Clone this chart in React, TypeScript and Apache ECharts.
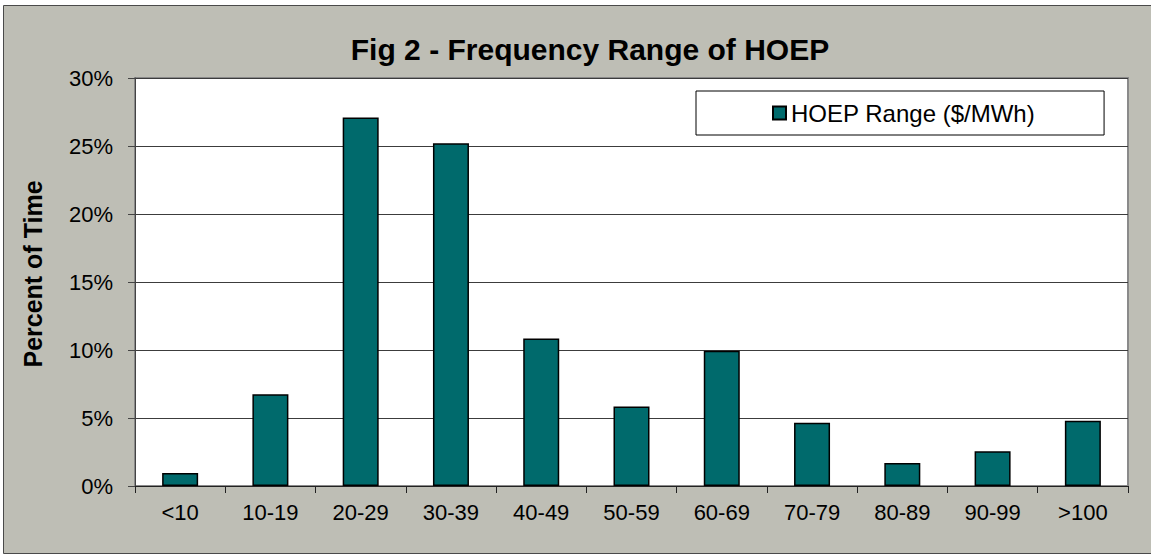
import React, { useEffect, useRef } from "react";
import * as echarts from "echarts";

const chartTitle = "Fig 2 - Frequency Range of HOEP";
const yAxisTitle = "Percent of Time";
const seriesName = "HOEP Range ($/MWh)";
const categories = ["<10", "10-19", "20-29", "30-39", "40-49", "50-59", "60-69", "70-79", "80-89", "90-99", ">100"];
const percentOfTime = [0.95, 6.75, 27.1, 25.2, 10.85, 5.85, 9.95, 4.65, 1.7, 2.55, 4.8];
const yMin = 0;
const yMax = 30;
const yStep = 5;

const FONT = "Arial, 'Liberation Sans', sans-serif";

export default function App() {
  const ref = useRef<HTMLDivElement>(null);

  useEffect(() => {
    if (!ref.current) return;
    const chart = echarts.init(ref.current, undefined, { renderer: "svg" });
    chart.setOption({
      animation: false,
      backgroundColor: "#ffffff",
      textStyle: { fontFamily: FONT },
      graphic: [
        {
          type: "rect",
          z: -10,
          shape: { x: 3.5, y: 5.5, width: 1150, height: 548 },
          style: { fill: "#BEBEB5", stroke: "#4a4a4a", lineWidth: 1 },
        },
        {
          type: "text",
          x: 590,
          y: 49,
          style: {
            text: chartTitle,
            fontFamily: FONT,
            fontSize: 30,
            fontWeight: "bold",
            fill: "#000",
            align: "center",
            verticalAlign: "middle",
          },
        },
        {
          type: "text",
          x: 32.5,
          y: 274,
          rotation: Math.PI / 2,
          style: {
            text: yAxisTitle,
            fontFamily: FONT,
            fontSize: 25,
            fontWeight: "bold",
            fill: "#000",
            align: "center",
            verticalAlign: "middle",
          },
        },
      ],
      legend: {
        data: [seriesName],
        left: 696,
        top: 91,
        padding: [10, 69, 10, 76],
        backgroundColor: "#ffffff",
        borderColor: "#000000",
        borderWidth: 1,
        borderRadius: 0,
        itemWidth: 13,
        itemHeight: 13,
        icon: "rect",
        textStyle: { fontFamily: FONT, fontSize: 24, color: "#000" },
      },
      grid: {
        left: 135,
        top: 78,
        width: 993,
        height: 408,
        show: true,
        backgroundColor: "#ffffff",
        borderColor: "#8a8a8a",
        borderWidth: 2,
      },
      xAxis: {
        type: "category",
        data: categories,
        boundaryGap: true,
        axisLine: { show: true, lineStyle: { color: "#222", width: 1 } },
        axisTick: { show: true, alignWithLabel: false, length: 7, lineStyle: { color: "#222" } },
        axisLabel: { color: "#000", fontSize: 22, fontFamily: FONT, margin: 15, interval: 0 },
        splitLine: { show: false },
      },
      yAxis: {
        type: "value",
        min: yMin,
        max: yMax,
        interval: yStep,
        axisLine: { show: true, lineStyle: { color: "#444", width: 1 } },
        axisTick: { show: true, length: 7, lineStyle: { color: "#444" } },
        axisLabel: {
          color: "#000",
          fontSize: 22,
          fontFamily: FONT,
          margin: 22,
          formatter: (v: number) => `${v}%`,
        },
        splitLine: { show: true, lineStyle: { color: "#3c3c3c", width: 1 } },
      },
      series: [
        {
          name: seriesName,
          type: "bar",
          data: percentOfTime,
          barWidth: 36,
          itemStyle: { color: "#006A6C", borderColor: "#000", borderWidth: 1.5 },
        },
      ],
    });
    return () => chart.dispose();
  }, []);

  return (
    <div
      ref={ref}
      style={{ position: "absolute", left: 0, top: 0, width: 1151, height: 557 }}
    />
  );
}
